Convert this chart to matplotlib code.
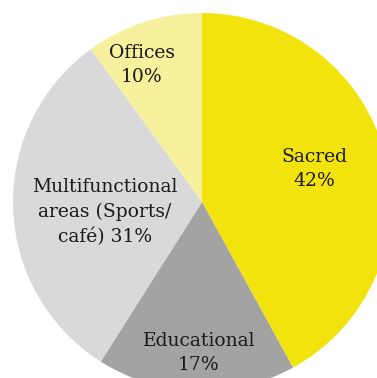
import matplotlib.pyplot as plt

# Space use shares by function
categories = ['Sacred', 'Educational', 'Multifunctional\nareas (Sports/\ncafé)', 'Offices']
shares = [42, 17, 31, 10]
colors = ['#f2e30c', '#a3a3a3', '#d9d9d9', '#f7f09c']

# label anchor points (pixel coords, y up)
label_xy = [(314, 209), (199, 25), (105, 166), (142, 313)]

fig = plt.figure(figsize=(3.77, 3.78), dpi=100)
ax = fig.add_axes([0, 0, 1, 1])

ax.pie(shares, colors=colors, startangle=90, counterclock=False,
       center=(202, 176), radius=189, frame=True,
       wedgeprops=dict(linewidth=0))
ax.set_xlim(0, 377)
ax.set_ylim(0, 378)
ax.set_aspect('equal')
ax.axis('off')

for name, val, (x, y) in zip(categories, shares, label_xy):
    if name.endswith(')'):
        txt = f'{name} {val}%'
    else:
        txt = f'{name}\n{val}%'
    ax.text(x, y, txt, ha='center', va='center', fontsize=13.5,
            family='DejaVu Serif', color='#1a1a1a', linespacing=1.45)

fig.savefig('out.png', dpi=100)
